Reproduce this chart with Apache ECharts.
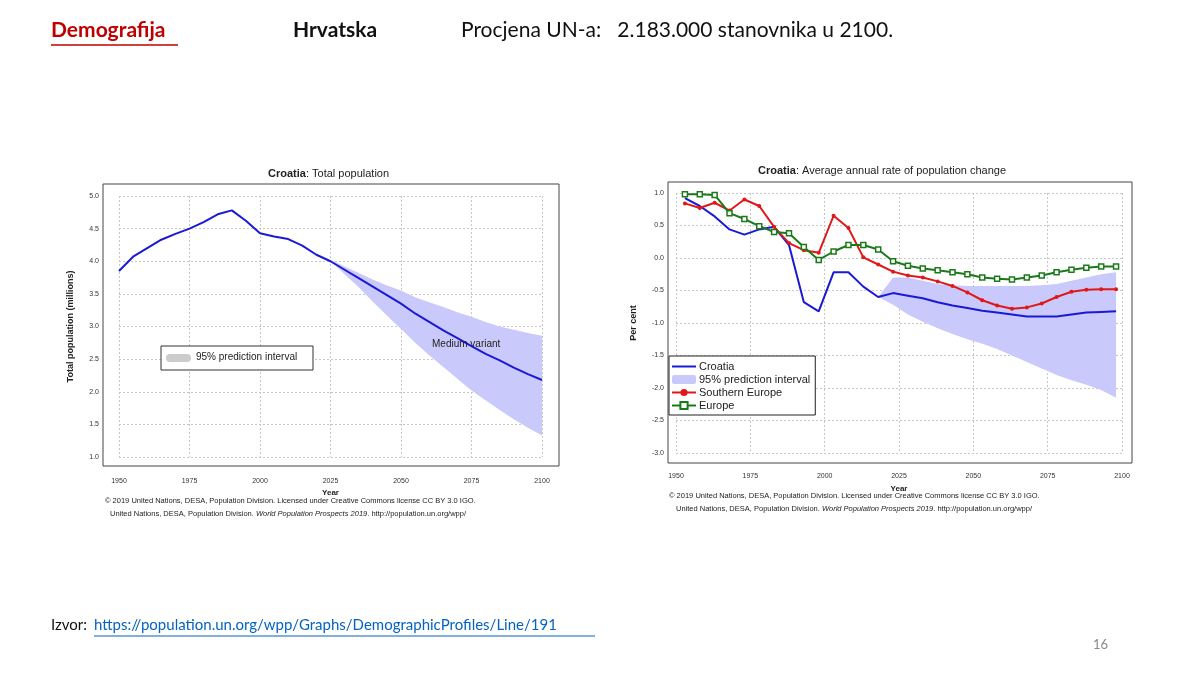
<!DOCTYPE html>
<html><head><meta charset="utf-8">
<script src="https://cdn.jsdelivr.net/npm/echarts@6/dist/echarts.min.js"></script>
<style>html,body{margin:0;background:#fff}#chart{width:1200px;height:675px}</style>
</head><body><div id="chart"></div>
<script>
// total population (millions), 5-year steps
const popYears = [1950,1955,1960,1965,1970,1975,1980,1985,1990,1995,2000,2005,2010,2015,2020,2025,2030,2035,2040,2045,2050,2055,2060,2065,2070,2075,2080,2085,2090,2095,2100]
const popMedium = [3.85,4.07,4.2,4.33,4.42,4.5,4.6,4.72,4.78,4.62,4.43,4.38,4.34,4.24,4.1,4.0,3.87,3.74,3.61,3.48,3.35,3.2,3.07,2.94,2.82,2.7,2.58,2.48,2.37,2.27,2.18]
const bandYears = [2025,2030,2035,2040,2045,2050,2055,2060,2065,2070,2075,2080,2085,2090,2095,2100]
const popLow = [4.0,3.8,3.6,3.38,3.17,2.96,2.75,2.56,2.38,2.2,2.02,1.87,1.72,1.58,1.45,1.33]
const popHigh = [4.02,3.92,3.82,3.72,3.63,3.55,3.45,3.37,3.3,3.22,3.15,3.07,3.0,2.95,2.9,2.86]

// rate of change (%), period midpoints
const rateYears = [1953,1958,1963,1968,1973,1978,1983,1988,1993,1998,2003,2008,2013,2018,2023,2028,2033,2038,2043,2048,2053,2058,2063,2068,2073,2078,2083,2088,2093,2098]
const rateCroatia = [0.92,0.8,0.64,0.44,0.36,0.44,0.48,0.2,-0.68,-0.82,-0.22,-0.22,-0.44,-0.6,-0.54,-0.58,-0.62,-0.68,-0.73,-0.77,-0.81,-0.84,-0.87,-0.9,-0.9,-0.9,-0.87,-0.84,-0.83,-0.82]
const rateSouth = [0.84,0.77,0.85,0.73,0.9,0.8,0.48,0.23,0.12,0.08,0.65,0.46,0.01,-0.1,-0.21,-0.27,-0.3,-0.36,-0.43,-0.53,-0.65,-0.73,-0.78,-0.76,-0.7,-0.6,-0.52,-0.49,-0.48,-0.48]
const rateEurope = [0.98,0.98,0.97,0.69,0.6,0.49,0.4,0.38,0.17,-0.03,0.1,0.2,0.2,0.13,-0.05,-0.12,-0.16,-0.19,-0.22,-0.25,-0.3,-0.32,-0.33,-0.3,-0.27,-0.22,-0.18,-0.15,-0.13,-0.13]
const rateBandYears = [2018,2023,2028,2033,2038,2043,2048,2053,2058,2063,2068,2073,2078,2083,2088,2093,2098]
const rateLow = [-0.6,-0.72,-0.87,-0.98,-1.08,-1.17,-1.25,-1.32,-1.4,-1.5,-1.6,-1.7,-1.8,-1.88,-1.95,-2.03,-2.15]
const rateHigh = [-0.6,-0.3,-0.3,-0.35,-0.4,-0.42,-0.43,-0.43,-0.43,-0.43,-0.43,-0.42,-0.4,-0.35,-0.3,-0.25,-0.22]

const pair = (xs, ys) => xs.map((x, i) => [x, ys[i]])

const AR = 'Liberation Sans, Arial, sans-serif'
const SL = 'Lato, Open Sans, sans-serif'
const grid = {color: '#c8c8c8', type: [2, 2]}
const BAND = '#c9c9fb'

// band polygon: upper edge forward, lower edge back, mapped via the axes
function band(xs, lo, hi, gi, name) {
  return {
    type: 'custom', name: name, xAxisIndex: gi, yAxisIndex: gi, color: BAND,
    data: [[xs[0], lo[0]]], clip: true, z: 1,
    renderItem: (params, api) => {
      const pts = xs.map((x, i) => api.coord([x, hi[i]]))
        .concat(xs.map((x, i) => api.coord([x, lo[i]])).reverse())
      return {type: 'polygon', shape: {points: pts}, style: {fill: BAND}}
    }
  }
}

function xAxis(gi, margin, gap) {
  return {
    type: 'value', gridIndex: gi, min: 1950, max: 2100, interval: 25,
    name: 'Year', nameLocation: 'middle', nameGap: gap,
    nameTextStyle: {fontFamily: AR, fontSize: 8, fontWeight: 'bold', color: '#222'},
    axisLine: {show: false}, axisTick: {show: false},
    axisLabel: {fontFamily: AR, fontSize: 7, color: '#333', margin: margin, formatter: v => String(v)},
    splitLine: {show: true, lineStyle: grid}
  }
}
function yAxis(gi, min, max, name, gap, margin) {
  return {
    type: 'value', gridIndex: gi, min: min, max: max, interval: 0.5,
    name: name, nameLocation: 'middle', nameGap: gap,
    nameTextStyle: {fontFamily: AR, fontSize: 9, fontWeight: 'bold', color: '#222'},
    axisLine: {show: false}, axisTick: {show: false},
    axisLabel: {fontFamily: AR, fontSize: 7, color: '#333', margin: margin, formatter: v => v.toFixed(1)},
    splitLine: {show: true, lineStyle: grid}
  }
}

const chart = echarts.init(document.getElementById('chart'))
const option = {
  animation: false,
  grid: [
    {left: 119, width: 423, top: 196, height: 261},
    {left: 676, width: 446, top: 193, height: 260}
  ],
  xAxis: [xAxis(0, 21, 32), xAxis(1, 20, 32)],
  yAxis: [yAxis(0, 1, 5, 'Total population (millions)', 44, 20), yAxis(1, -3, 1, 'Per cent', 38, 12)],
  legend: {
    left: 669, top: 356, orient: 'vertical', itemGap: 2, itemWidth: 24, itemHeight: 9,
    padding: [5, 5, 4, 2], borderColor: '#222', borderWidth: 1, backgroundColor: '#fff',
    textStyle: {fontFamily: AR, fontSize: 11, color: '#222', padding: [0, 0, 0, -2]},
    data: [
      {name: 'Croatia', icon: 'path://M0,4 L24,4 L24,6 L0,6 Z'},
      {name: '95% prediction interval', icon: 'roundRect'},
      'Southern Europe', 'Europe'
    ]
  },
  series: [
    band(bandYears, popLow, popHigh, 0, 'popBand'),
    {type: 'line', xAxisIndex: 0, yAxisIndex: 0, data: pair(popYears, popMedium), symbol: 'none', lineStyle: {color: '#1a1ad6', width: 2}, z: 3},

    band(rateBandYears, rateLow, rateHigh, 1, '95% prediction interval'),
    {type: 'line', name: 'Croatia', xAxisIndex: 1, yAxisIndex: 1, data: pair(rateYears, rateCroatia), symbol: 'none', color: '#1a1ad6', lineStyle: {width: 2}, z: 3},
    {type: 'line', name: 'Southern Europe', xAxisIndex: 1, yAxisIndex: 1, data: pair(rateYears, rateSouth), symbol: 'circle', symbolSize: 4, color: '#e01818', lineStyle: {width: 2}, z: 3},
    {type: 'line', name: 'Europe', xAxisIndex: 1, yAxisIndex: 1, data: pair(rateYears, rateEurope), symbol: 'rect', symbolSize: 5, color: '#1a7a1a', itemStyle: {color: '#fff', borderColor: '#1a7a1a', borderWidth: 1.5}, lineStyle: {width: 2, color: '#1a7a1a'}, z: 3}
  ],
  graphic: [
    // header
    {type: 'text', left: 51, top: 20, style: {text: 'Demografija', font: 'bold 21px ' + SL, fill: '#c00000'}},
    {type: 'line', shape: {x1: 51, y1: 45, x2: 178, y2: 45}, style: {stroke: '#c00000', lineWidth: 1.5}},
    {type: 'text', left: 293, top: 20, style: {text: 'Hrvatska', font: 'bold 21px ' + SL, fill: '#111'}},
    {type: 'text', left: 461, top: 20, style: {text: 'Procjena UN-a:   2.183.000 stanovnika u 2100.', font: '21px ' + SL, fill: '#111'}},
    // footer
    {type: 'text', left: 51, top: 618, style: {text: 'Izvor: ', font: '15px ' + SL, fill: '#111'}},
    {type: 'text', left: 94, top: 618, style: {text: 'https://population.un.org/wpp/Graphs/DemographicProfiles/Line/191', font: '15px ' + SL, fill: '#0563c1'}},
    {type: 'line', shape: {x1: 94, y1: 636, x2: 595, y2: 636}, style: {stroke: '#0563c1', lineWidth: 1}},
    {type: 'text', left: 1093, top: 638, style: {text: '16', font: '13px ' + SL, fill: '#888'}},
    // left chart frame + title
    {type: 'rect', shape: {x: 103, y: 184, width: 456, height: 282}, style: {fill: 'none', stroke: '#444', lineWidth: 1}, z: 10},
    {type: 'text', left: 268, top: 168, style: {rich: {b: {font: 'bold 11px ' + AR, fill: '#222'}, n: {font: '11px ' + AR, fill: '#222'}}, text: '{b|Croatia}{n|: Total population}'}},
    {type: 'text', left: 432, top: 339, style: {text: 'Medium variant', font: '10px ' + AR, fill: '#222'}, z: 10},
    {type: 'rect', shape: {x: 161, y: 346, width: 152, height: 24}, style: {fill: '#fff', stroke: '#333', lineWidth: 1}, z: 10},
    {type: 'rect', shape: {x: 166, y: 354, width: 25, height: 8, r: 4}, style: {fill: '#cccccc'}, z: 11},
    {type: 'text', left: 196, top: 352, style: {text: '95% prediction interval', font: '10px ' + AR, fill: '#222'}, z: 11},
    {type: 'text', left: 105, top: 497, style: {text: '© 2019 United Nations, DESA, Population Division. Licensed under Creative Commons license CC BY 3.0 IGO.', font: '7.5px ' + AR, fill: '#222'}},
    {type: 'text', left: 110, top: 510, style: {rich: {n: {font: '7.5px ' + AR, fill: '#222'}, i: {font: 'italic 7.5px ' + AR, fill: '#222'}}, text: '{n|United Nations, DESA, Population Division. }{i|World Population Prospects 2019}{n|. http://population.un.org/wpp/}'}},
    // right chart frame + title
    {type: 'rect', shape: {x: 668, y: 182, width: 464, height: 281}, style: {fill: 'none', stroke: '#444', lineWidth: 1}, z: 10},
    {type: 'text', left: 758, top: 165, style: {rich: {b: {font: 'bold 11px ' + AR, fill: '#222'}, n: {font: '11px ' + AR, fill: '#222'}}, text: '{b|Croatia}{n|: Average annual rate of population change}'}},
    {type: 'text', left: 669, top: 492, style: {text: '© 2019 United Nations, DESA, Population Division. Licensed under Creative Commons license CC BY 3.0 IGO.', font: '7.5px ' + AR, fill: '#222'}},
    {type: 'text', left: 676, top: 505, style: {rich: {n: {font: '7.5px ' + AR, fill: '#222'}, i: {font: 'italic 7.5px ' + AR, fill: '#222'}}, text: '{n|United Nations, DESA, Population Division. }{i|World Population Prospects 2019}{n|. http://population.un.org/wpp/}'}}
  ]
}
chart.setOption(option)
</script></body></html>
